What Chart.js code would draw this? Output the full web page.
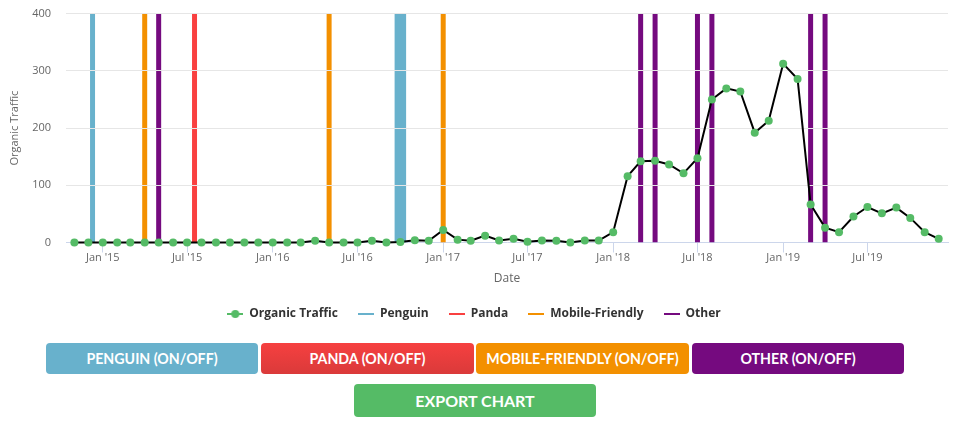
<!DOCTYPE html>
<html>
<head>
<meta charset="utf-8">
<script src="https://cdn.jsdelivr.net/npm/chart.js@4"></script>
<style>
html,body{margin:0;padding:0;background:#fff;overflow:hidden}
#wrap{position:relative;width:958px;height:427px}
canvas{position:absolute;left:0;top:0}
.b{position:absolute;box-sizing:border-box;display:flex;align-items:center;justify-content:center;color:#fff;font:700 14.2px Lato,sans-serif;border-radius:4px;padding-bottom:1px}
</style>
</head>
<body>
<div id="wrap">
<canvas id="c" width="958" height="332"></canvas>
<div class="b" style="left:46px;top:343px;width:212px;height:31px;background:#68b1cc">PENGUIN (ON/OFF)</div>
<div class="b" style="left:261px;top:343px;width:213px;height:31px;background:linear-gradient(#f64040,#da3a3a)">PANDA (ON/OFF)</div>
<div class="b" style="left:476px;top:343px;width:213px;height:31px;background:#f39000">MOBILE-FRIENDLY (ON/OFF)</div>
<div class="b" style="left:692px;top:343px;width:212px;height:31px;background:#750a7f">OTHER (ON/OFF)</div>
<div class="b" style="left:354px;top:384px;width:242px;height:33px;background:#55bb66;font-size:16px">EXPORT CHART</div>
</div>
<script>
const months = ['2014-11','2014-12',
 '2015-01','2015-02','2015-03','2015-04','2015-05','2015-06','2015-07','2015-08','2015-09','2015-10','2015-11','2015-12',
 '2016-01','2016-02','2016-03','2016-04','2016-05','2016-06','2016-07','2016-08','2016-09','2016-10','2016-11','2016-12',
 '2017-01','2017-02','2017-03','2017-04','2017-05','2017-06','2017-07','2017-08','2017-09','2017-10','2017-11','2017-12',
 '2018-01','2018-02','2018-03','2018-04','2018-05','2018-06','2018-07','2018-08','2018-09','2018-10','2018-11','2018-12',
 '2019-01','2019-02','2019-03','2019-04','2019-05','2019-06','2019-07','2019-08','2019-09','2019-10','2019-11','2019-12'];
const traffic = [0,0,
 0,0,0,0,0,0,0,0,0,0,0,0,
 0,0,0,3,0,0,0,3,0,1,4,3,
 22,5,3,12,3.5,6.5,1.5,3.5,3,0,3.5,3.5,
 18,116,142,143,136.5,121,147.5,250,269.5,264,192,213,
 312.7,286,66.5,26,18,45.5,62,51,61,43,18,6.5];
const tickDates = ['2015-01','2015-07','2016-01','2016-07','2017-01','2017-07','2018-01','2018-07','2019-01','2019-07'];
const tickLabels = ["Jan '15","Jul '15","Jan '16","Jul '16","Jan '17","Jul '17","Jan '18","Jul '18","Jan '19","Jul '19"];
const penguinDates = ['2014-12-10','2016-09-24','2016-10-01','2016-10-08'];
const pandaDates = ['2015-07-17'];
const mobileDates = ['2015-04-01','2016-05-01','2017-01-01'];
const otherDates = ['2015-05-01','2018-03-01','2018-04-01','2018-07-01','2018-08-01','2019-03-01','2019-04-01'];
const xRange = ['2014-10-14','2019-12-21'];
const yTicksMax = 400;

const ms = s => Date.parse(s.length === 7 ? s + '-01' : s);
const FONT = '"Open Sans", sans-serif';

function bandPoints(dates){
  const out = [];
  dates.forEach(d => { out.push({x:ms(d),y:0},{x:ms(d),y:yTicksMax},{x:ms(d),y:null}); });
  return out;
}
function bandSet(label,color,dates){
  return {label,data:bandPoints(dates),borderColor:color,backgroundColor:color,borderWidth:5,
    pointRadius:0,pointHoverRadius:0,borderCapStyle:'butt',spanGaps:false,tension:0,
    pointStyle:legendIcon(color,false)};
}
function legendIcon(color,dot){
  const k = document.createElement('canvas'); k.width = 16; k.height = 10;
  const g = k.getContext('2d');
  g.fillStyle = color; g.fillRect(0,4,16,2);
  if(dot){ g.beginPath(); g.arc(8,5,4,0,Math.PI*2); g.fill(); }
  return k;
}
const GREEN = '#55bb66';
const gridOverBands = {
  id:'gridOverBands',
  beforeDatasetDraw(chart,args){
    if(args.index !== 0) return;
    const {ctx,chartArea:a,scales:{y}} = chart;
    ctx.save(); ctx.strokeStyle = '#e6e6e6'; ctx.lineWidth = 1;
    y.ticks.forEach(t => {
      if(t.value === 0) return;
      const p = Math.floor(y.getPixelForValue(t.value)) + .5;
      ctx.beginPath(); ctx.moveTo(a.left,p); ctx.lineTo(a.right,p); ctx.stroke();
    });
    ctx.restore();
  }
};
new Chart(document.getElementById('c'),{
  type:'line',
  plugins:[gridOverBands],
  data:{datasets:[
    {label:'Organic Traffic',data:months.map((m,i)=>({x:ms(m),y:traffic[i]})),
     borderColor:'#000',borderWidth:2,backgroundColor:GREEN,tension:0,
     pointRadius:4,pointBackgroundColor:GREEN,pointBorderWidth:0,pointHoverRadius:4,
     pointStyle:'circle',clip:false},
    bandSet('Penguin','#68b1cc',penguinDates),
    bandSet('Panda','#f94040',pandaDates),
    bandSet('Mobile-Friendly','#f39000',mobileDates),
    bandSet('Other','#750a7f',otherDates)
  ]},
  options:{
    responsive:false,animation:false,
    layout:{padding:{top:13.75,right:10,left:0,bottom:2}},
    interaction:{mode:null},
    plugins:{
      tooltip:{enabled:false},
      legend:{position:'bottom',
        labels:{usePointStyle:true,pointStyleWidth:16,boxHeight:10,padding:20,color:'#333',
          font:{family:FONT,size:12,weight:'700'},
          generateLabels(chart){
            return chart.data.datasets.map((d,i)=>({
              text:d.label,datasetIndex:i,fontColor:'#333',
              pointStyle:i===0?legendIcon(GREEN,true):d.pointStyle,lineWidth:0
            }));
          }}}
    },
    scales:{
      x:{type:'linear',min:ms(xRange[0]),max:ms(xRange[1]),
        afterBuildTicks(s){ s.ticks = tickDates.map(d=>({value:ms(d)})); },
        afterFit(s){ s.height = 45.5; s.paddingLeft = 0; s.paddingRight = 0; },
        grid:{drawOnChartArea:false,color:'#ccd6eb',tickColor:'#ccd6eb',tickLength:10},
        border:{color:'#ccd6eb',width:1},
        ticks:{autoSkip:false,maxRotation:0,color:'#666',padding:-1,
          font:{family:FONT,size:11},
          callback:(v,i)=>tickLabels[i]},
        title:{display:true,text:'Date',color:'#666',font:{family:FONT,size:12},padding:{top:6,bottom:2}}
      },
      y:{min:0,max:yTicksMax,
        afterFit(s){ s.width = 66; s.paddingTop = 0; s.paddingBottom = 0; },
        grid:{drawOnChartArea:false,drawTicks:false},
        border:{display:false},
        ticks:{stepSize:100,color:'#666',padding:15,font:{family:FONT,size:11}},
        title:{display:true,text:'Organic Traffic',color:'#666',font:{family:FONT,size:11},padding:{top:8,bottom:0}}
      }
    }
  }
});
</script>
</body>
</html>
